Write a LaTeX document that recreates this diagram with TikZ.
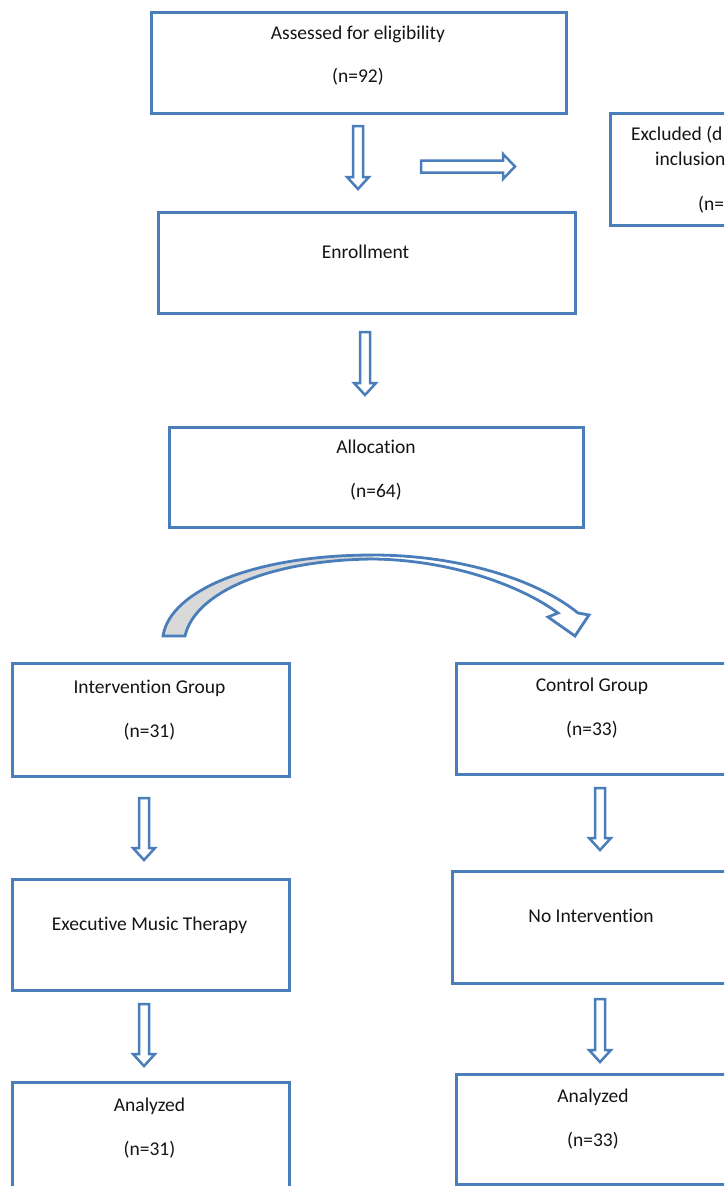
\documentclass[tikz,border=0pt]{standalone}
\usepackage{fontspec}
\setmainfont{Carlito}[Ligatures=NoCommon]
\definecolor{bblue}{RGB}{74,126,187}
\definecolor{bgray}{RGB}{217,217,217}
\definecolor{txt}{RGB}{20,20,20}
\newcommand{\vblock}[3]{\draw[arrowline] (#1-5,#2) -- (#1+5,#2) -- (#1+5,#3-12) -- (#1+11,#3-12) -- (#1,#3) -- (#1-11,#3-12) -- (#1-5,#3-12) -- cycle;}
\begin{document}
\begin{tikzpicture}[x=1pt,y=-1pt,
  boxst/.style={draw=bblue, line width=3pt, inner sep=0pt, anchor=north west},
  lbl/.style={font=\fontsize{19.5}{23}\selectfont, text=txt, inner sep=0pt, anchor=mid, yshift=-3.5pt},
  lbll/.style={lbl, anchor=mid west},
  arrowline/.style={draw=bblue, line width=2.5pt, fill=white, line join=miter}]
\useasboundingbox (0,0) rectangle (724,1186);
\clip (0,0) rectangle (724,1186);
% boxes
\node[boxst, minimum width=415pt, minimum height=101pt] (assess) at (150,11) {};
\node[boxst, minimum width=150pt, minimum height=112pt] (excl) at (609,112) {};
\node[boxst, minimum width=417pt, minimum height=101pt] (enrol) at (157,211) {};
\node[boxst, minimum width=414pt, minimum height=100pt] (alloc) at (168,426) {};
\node[boxst, minimum width=277pt, minimum height=113pt] (intg) at (11,662) {};
\node[boxst, minimum width=277pt, minimum height=111pt] (ctrl) at (455,662) {};
\node[boxst, minimum width=277pt, minimum height=111pt] (emt) at (11,878) {};
\node[boxst, minimum width=281pt, minimum height=112pt] (noint) at (451,870) {};
\node[boxst, minimum width=277pt, minimum height=130pt] (anl) at (11,1081) {};
\node[boxst, minimum width=277pt, minimum height=110pt] (anr) at (455,1073) {};
% labels
\node[lbl] (t1) at (358,34) {Assessed for eligibility};
\node[lbl] (t2) at (358,77) {(n=92)};
\node[lbll] (t3) at (631,135) {Excluded (d};
\node[lbll] (t4) at (655,160) {inclusion};
\node[lbll] (t5) at (698,205) {(n=};
\node[lbl] (t6) at (365.5,253) {Enrollment};
\node[lbl] (t7) at (376,448) {Allocation};
\node[lbl] (t8) at (376,492) {(n=64)};
\node[lbl] (t9) at (149.5,688) {Intervention Group};
\node[lbl] (t10) at (149.5,732) {(n=31)};
\node[lbl] (t11) at (149.5,925) {Executive Music Therapy};
\node[lbl] (t12) at (149.5,1106) {Analyzed};
\node[lbl] (t13) at (149.5,1150) {(n=31)};
\node[lbl] (t14) at (592,686) {Control Group};
\node[lbl] (t15) at (592,730) {(n=33)};
\node[lbl] (t16) at (591,917) {No Intervention};
\node[lbl] (t17) at (593,1097) {Analyzed};
\node[lbl] (t18) at (593,1141) {(n=33)};
% block arrows
\vblock{358}{126}{189}
\draw[arrowline] (421,160.5) -- (503,160.5) -- (503,154) -- (515,166.5) -- (503,179) -- (503,172.5) -- (421,172.5) -- cycle;
\vblock{365}{332}{395}
\vblock{144}{798}{860}
\vblock{600}{788}{850}
\vblock{144}{1004}{1066}
\vblock{600}{999}{1062}
% curved arrow
\fill[bgray] (163,636) .. controls (170,590) and (255,555) .. (373,555)
  -- (373,559) .. controls (270,560) and (195,592) .. (185,636) -- cycle;
\draw[arrowline, fill=none, line width=2.8pt] (163,636) .. controls (170,590) and (255,555) .. (373,555)
  .. controls (455,555) and (535,578) .. (578,613)
  -- (589,615) -- (575,636) -- (548,617) -- (558,613)
  .. controls (520,585) and (450,560) .. (373,559)
  .. controls (270,560) and (195,592) .. (185,636) -- cycle;
\end{tikzpicture}
\end{document}
